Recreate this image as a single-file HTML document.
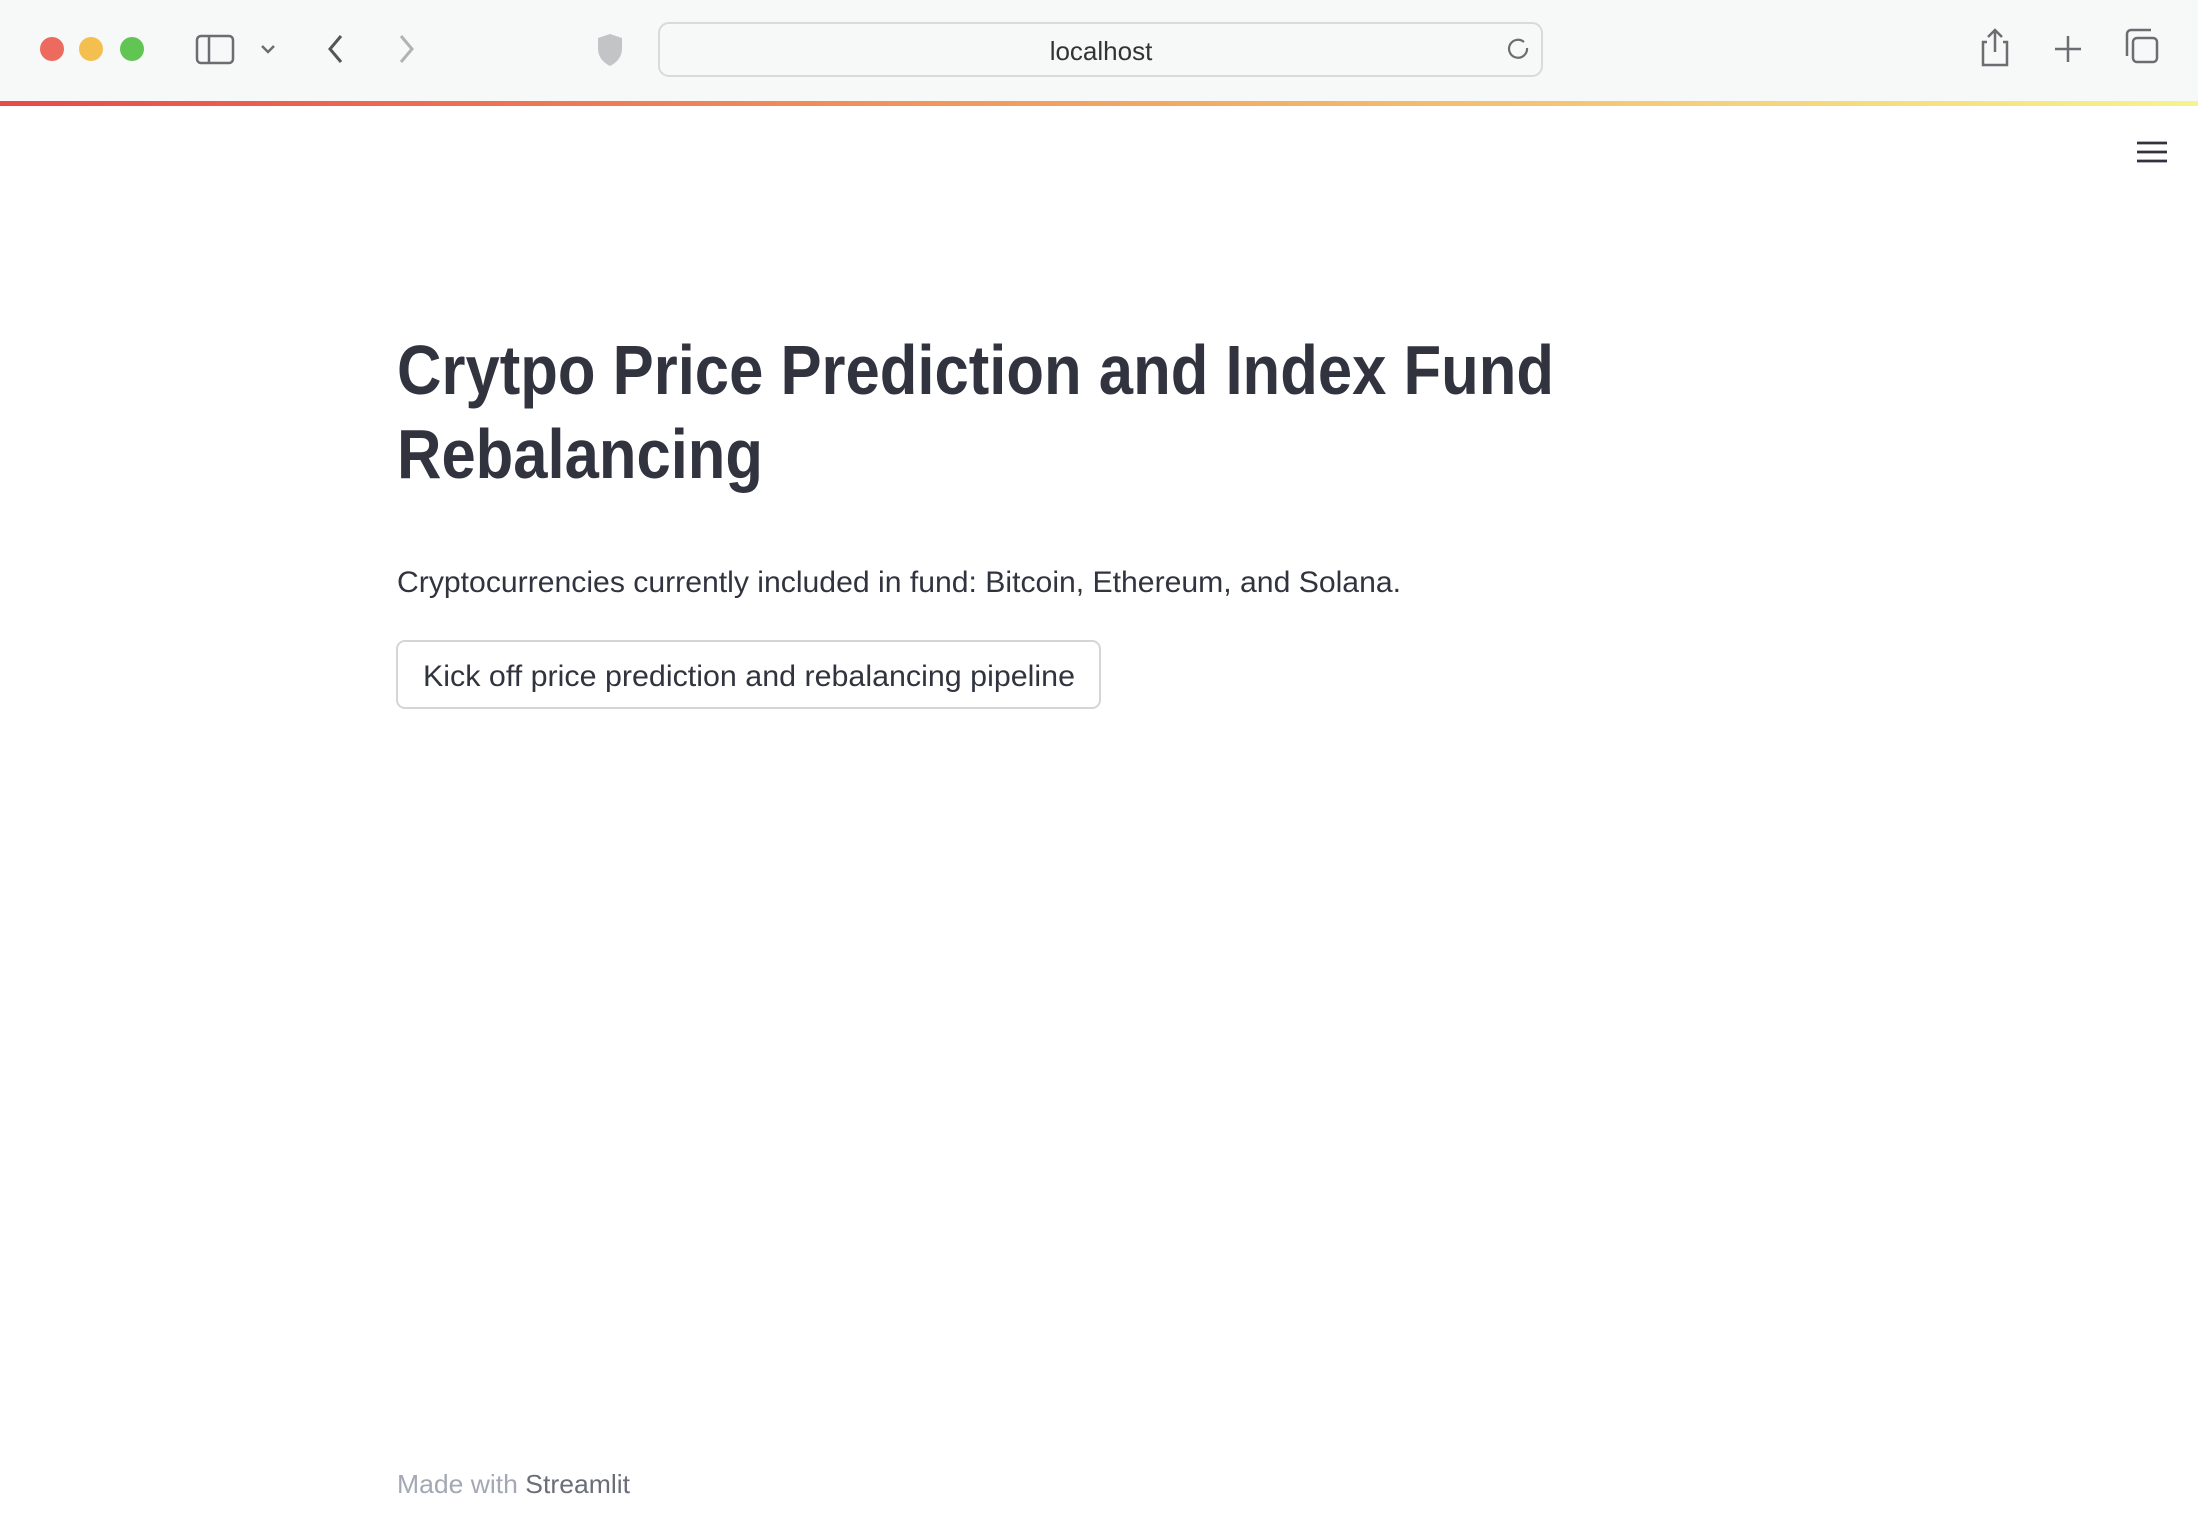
<!DOCTYPE html>
<html><head><meta charset="utf-8"><style>
html,body{margin:0;padding:0;width:2198px;height:1516px;overflow:hidden;background:#fff;}
svg{display:block;}
text{font-family:"Liberation Sans",sans-serif;}
</style></head><body>
<svg width="2198" height="1516" viewBox="0 0 2198 1516">
<defs>
<linearGradient id="g" x1="0" x2="1" y1="0" y2="0">
<stop offset="0" stop-color="#e84a4a"/><stop offset="0.5" stop-color="#f2a461"/><stop offset="1" stop-color="#f7f38e"/>
</linearGradient>
</defs>
<g>
<rect x="0" y="0" width="2198" height="102" fill="#f7f8f8"/>
<rect x="0" y="101" width="2198" height="5" fill="url(#g)"/>
<circle cx="52" cy="49" r="12" fill="#ec6a5e"/>
<circle cx="91" cy="49" r="12" fill="#f4bf4f"/>
<circle cx="132" cy="49" r="12" fill="#61c554"/>
<g fill="none" stroke="#6b6d70" stroke-width="2.5">
<rect x="197" y="36" width="36" height="27" rx="4"/><line x1="209" y1="36" x2="209" y2="63"/>
</g>
<path d="M262 46 l6 6 l6 -6" fill="none" stroke="#6b6d70" stroke-width="2.5"/>
<path d="M341 36 l-11 13 l11 13" fill="none" stroke="#555" stroke-width="3"/>
<path d="M401 36 l11 13 l-11 13" fill="none" stroke="#b0b2b4" stroke-width="3"/>
<path d="M598 38 l12 -4 l12 4 v10 q0 12 -12 18 q-12 -6 -12 -18z" fill="#c2c4c6"/>
<rect x="659" y="23" width="883" height="53" rx="10" fill="#f7f8f8" stroke="#d9dadb" stroke-width="2"/>
<text x="1101" y="60" font-size="26" fill="#333" text-anchor="middle">localhost</text>
<path d="M1524 42 a9 9 0 1 0 3 6" fill="none" stroke="#6b6d70" stroke-width="2.2"/>
<g fill="none" stroke="#6b6d70" stroke-width="2.5">
<path d="M1987 42 h-4 v23 h24 v-23 h-4"/><path d="M1995 52 v-22 m-7 7 l7 -7 l7 7"/>
</g>
<path d="M2068 36 v26 M2055 49 h26" stroke="#6b6d70" stroke-width="2.5"/>
<g fill="none" stroke="#6b6d70" stroke-width="2.5">
<rect x="2133" y="38" width="24" height="24" rx="4"/><path d="M2127 56 v-22 a4 4 0 0 1 4 -4 h20"/>
</g>
</g>
<g stroke="#31333f" stroke-width="2.8">
<line x1="2137" y1="143" x2="2167" y2="143"/><line x1="2137" y1="152" x2="2167" y2="152"/><line x1="2137" y1="161" x2="2167" y2="161"/>
</g>
<text x="397" y="394" font-size="70" font-weight="bold" fill="#31333f" textLength="1157" lengthAdjust="spacingAndGlyphs">Crytpo Price Prediction and Index Fund</text>
<text x="397" y="478" font-size="70" font-weight="bold" fill="#31333f" textLength="366" lengthAdjust="spacingAndGlyphs">Rebalancing</text>
<text x="397" y="592" font-size="30" fill="#31333f" textLength="1004" lengthAdjust="spacingAndGlyphs">Cryptocurrencies currently included in fund: Bitcoin, Ethereum, and Solana.</text>
<g>
<rect x="397" y="641" width="703" height="67" rx="8" fill="#fff" stroke="#d4d5d8" stroke-width="2"/>
<text x="423" y="686" font-size="30" fill="#31333f" textLength="652" lengthAdjust="spacingAndGlyphs">Kick off price prediction and rebalancing pipeline</text>
</g>
<text x="397" y="1493" font-size="26" fill="#a3a8b4" textLength="233" lengthAdjust="spacingAndGlyphs">Made with <tspan fill="#6b6e78">Streamlit</tspan></text>
</svg>
</body></html>
